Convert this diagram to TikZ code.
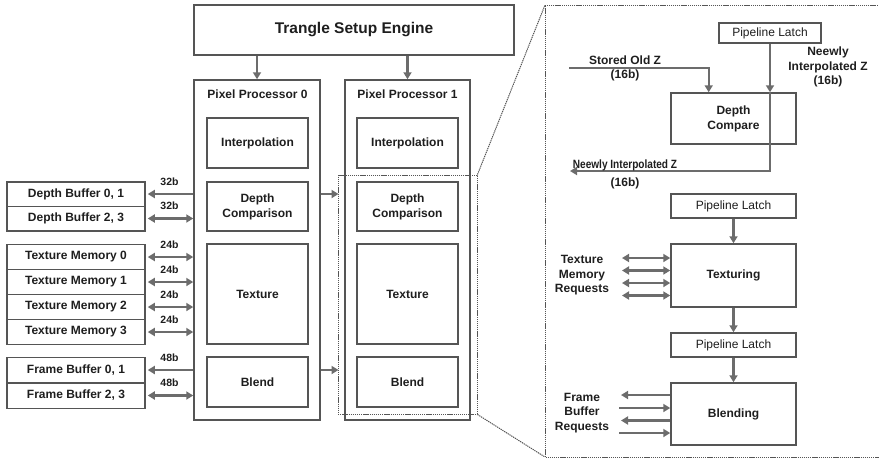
\documentclass[tikz,border=0pt]{standalone}
\usepackage{fontspec}
\setmainfont{Liberation Sans}
\usetikzlibrary{arrows.meta,calc}
\definecolor{boxgray}{HTML}{555555}
\definecolor{arrgray}{HTML}{6C6C6C}
\definecolor{txt}{HTML}{1E1E1E}
\begin{document}
\begin{tikzpicture}[x=1pt,y=-1pt,
  box/.style={draw=boxgray,line width=1.5pt,inner sep=0pt,align=center,text=txt,
    font=\fontsize{12}{15}\selectfont\bfseries},
  latch/.style={draw=boxgray,line width=1.5pt,inner sep=0pt,align=center,text=txt,
    font=\fontsize{12}{15}\selectfont},
  arr/.style={draw=arrgray,line width=2.4pt,-{Triangle[length=7pt,width=8pt]}},
  darr/.style={draw=arrgray,line width=2.4pt,{Triangle[length=7pt,width=8pt]}-{Triangle[length=7pt,width=8pt]}},
  lbl/.style={text=txt,font=\fontsize{12}{14.5}\selectfont\bfseries,align=center,inner sep=0pt},
  small/.style={text=txt,font=\fontsize{10.5}{12}\selectfont\bfseries,inner sep=0pt},
  zoomline/.style={draw=boxgray,line width=1pt,dash pattern=on 1.3pt off 0.8pt}]
\useasboundingbox (0,0) rectangle (879,459);

% Triangle setup engine
\node[box,minimum width=320pt,minimum height=50pt,font=\fontsize{15.5}{18}\selectfont\bfseries] (tse) at (354,30) {Trangle Setup Engine};

% Pixel processors
\node[box,minimum width=126pt,minimum height=340pt] (pp0) at (257,250) {};
\node[box,minimum width=125pt,minimum height=340pt] (pp1) at (407.5,250) {};
\node[lbl] (pp0t) at (257.5,94) {Pixel Processor 0};
\node[lbl] (pp1t) at (407.5,94) {Pixel Processor 1};

\draw[arr] (tse.south -| 257,0) -- (pp0.north);
\draw[arr] (tse.south -| 407.5,0) -- (pp1.north);

% inner boxes PP0
\node[box,minimum width=101pt,minimum height=50pt] (ip0) at (257.5,143) {Interpolation};
\node[box,minimum width=101pt,minimum height=49pt] (dc0) at (257.5,206.5) {Depth\\Comparison};
\node[box,minimum width=101pt,minimum height=100pt] (tx0) at (257.5,294) {Texture};
\node[box,minimum width=101pt,minimum height=50pt] (bl0) at (257.5,382) {Blend};
% inner boxes PP1
\node[box,minimum width=101pt,minimum height=50pt] (ip1) at (407.5,143) {Interpolation};
\node[box,minimum width=101pt,minimum height=49pt] (dc1) at (407.5,206.5) {Depth\\Comparison};
\node[box,minimum width=101pt,minimum height=100pt] (tx1) at (407.5,294) {Texture};
\node[box,minimum width=101pt,minimum height=50pt] (bl1) at (407.5,382) {Blend};

% memories
\node[box,minimum width=138pt,minimum height=24.5pt] (db01) at (76,194) {Depth Buffer 0, 1};
\node[box,minimum width=138pt,minimum height=24.5pt] (db23) at (76,218.5) {Depth Buffer 2, 3};
\node[box,minimum width=138pt,minimum height=25pt] (tm0) at (76,257) {Texture Memory 0};
\node[box,minimum width=138pt,minimum height=25pt] (tm1) at (76,282) {Texture Memory 1};
\node[box,minimum width=138pt,minimum height=25pt] (tm2) at (76,307) {Texture Memory 2};
\node[box,minimum width=138pt,minimum height=25pt] (tm3) at (76,332) {Texture Memory 3};
\node[box,minimum width=138pt,minimum height=25.5pt] (fb01) at (76,370) {Frame Buffer 0, 1};
\node[box,minimum width=138pt,minimum height=25.5pt] (fb23) at (76,395.5) {Frame Buffer 2, 3};

\draw[arr,shorten >=2pt] (db01 -| pp0.west) -- node[small,midway,yshift=12.5pt]{32b} (db01.east);
\draw[darr,shorten <=2pt] (db23.east) -- node[small,midway,yshift=12.5pt]{32b} (db23 -| pp0.west);
\foreach \m in {tm0,tm1,tm2,tm3}{
  \draw[darr,shorten <=2pt] (\m.east) -- node[small,midway,yshift=12.5pt]{24b} (\m -| pp0.west);
}
\draw[arr,shorten >=2pt] (fb01 -| pp0.west) -- node[small,midway,yshift=12.5pt]{48b} (fb01.east);
\draw[darr,shorten <=2pt] (fb23.east) -- node[small,midway,yshift=12.5pt]{48b} (fb23 -| pp0.west);

% zoom rectangle
\node[zoomline,minimum width=139pt,minimum height=239pt,inner sep=0pt] (zr) at (407.5,294.5) {};
\draw[arr,shorten >=-1pt] (db01 -| pp0.east) -- (db01 -| zr.west);
\draw[arr,shorten >=-1pt] (fb01 -| pp0.east) -- (fb01 -| zr.west);

\coordinate (bz1) at (545,5);
\coordinate (bz2) at (545,457);
\draw[zoomline] (zr.north east) -- (bz1);
\draw[zoomline] (zr.south east) -- (bz2);
\draw[zoomline] (882,5) -- (bz1) -- (bz2) -- (882,457);

% right panel
\node[latch,minimum width=102pt,minimum height=20pt] (l1) at (770,33) {Pipeline Latch};
\node[box,minimum width=125pt,minimum height=51pt] (dcmp) at (733.5,118.5) {Depth\\Compare};
\coordinate (nz) at (570,171);
\coordinate (soz) at (569,68);
\draw[arr] (l1.south) -- (l1.south |- dcmp.north);
\draw[arr] (l1.south |- dcmp.north) -- (l1.south |- nz) -- (nz);
\draw[arr] (soz) -| ($(dcmp.north west)!0.304!(dcmp.north east)$);
\node[lbl] (sozl) at (625,68.5) {Stored Old Z\\(16b)};
\node[lbl] (nizr) at (828,67) {Neewly\\Interpolated Z\\(16b)};
\node[lbl] (nizl) at (625,165) {\scalebox{0.84}[1]{Neewly Interpolated Z}};
\node[lbl] (nizl2) at (625,183.5) {(16b)};

\node[latch,minimum width=125pt,minimum height=24pt] (l2) at (733.5,206) {Pipeline Latch};
\node[box,minimum width=125pt,minimum height=63pt] (tex) at (733.5,275.5) {Texturing};
\node[latch,minimum width=125pt,minimum height=24pt] (l3) at (733.5,345) {Pipeline Latch};
\node[box,minimum width=125pt,minimum height=62pt] (bld) at (733.5,414) {Blending};
\draw[arr] (l2.south) -- (tex.north);
\draw[arr] (tex.south) -- (l3.north);
\draw[arr] (l3.south) -- (bld.north);

\foreach \y [count=\i] in {258,270.5,283,295.5}{
  \coordinate (tr\i) at (622,\y);
  \draw[darr] (tr\i) -- (tr\i -| tex.west);
}
\node[lbl] (tmr) at (582,275.5) {Texture\\Memory\\Requests};

\coordinate (fr1) at (621,395);
\coordinate (fr2) at (619,408);
\coordinate (fr3) at (621,420.5);
\coordinate (fr4) at (619,433);
\draw[arr] (fr1 -| bld.west) -- (fr1);
\draw[arr] (fr2) -- (fr2 -| bld.west);
\draw[arr] (fr3 -| bld.west) -- (fr3);
\draw[arr] (fr4) -- (fr4 -| bld.west);
\node[lbl] (fbr) at (582,413) {Frame\\Buffer\\Requests};
\end{tikzpicture}
\end{document}
